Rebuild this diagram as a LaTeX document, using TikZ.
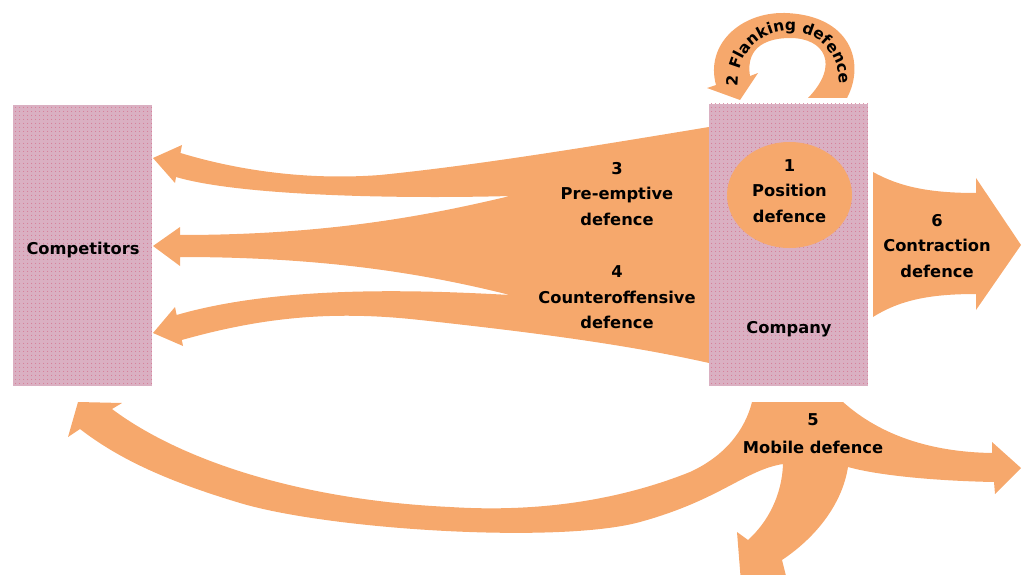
\documentclass[tikz,border=0pt]{standalone}
\usepackage{fontspec}
\setmainfont{DejaVu Sans}
\usetikzlibrary{shapes.geometric,decorations.text,patterns.meta}

\definecolor{defence}{RGB}{246,168,108}
\definecolor{boxpink}{RGB}{218,176,194}
\definecolor{boxdot}{RGB}{214,112,140}

\tikzset{
  arrowshape/.style={fill=defence, draw=none},
  party/.style={fill=boxpink, draw=none, inner sep=0pt,
    postaction={pattern={Dots[distance=4pt,radius=0.6pt]}, pattern color=boxdot}},
  lbl/.style={font=\bfseries\fontsize{16.3}{25.5}\selectfont, align=center, inner sep=0pt, text=black},
}

\begin{document}
\begin{tikzpicture}[x=1pt,y=-1pt]
\useasboundingbox (0,0) rectangle (1023,575);
\clip (0,0) rectangle (1023,575);

% 3 and 4: funnel splitting into three arrows towards the competitors
\fill[arrowshape]
  (709,127) .. controls (600,145) and (480,165) .. (380,175)
  .. controls (300,181) and (230,168) .. (180.5,153)
  -- (182,145) -- (153,158) -- (175,183) -- (176,177)
  .. controls (240,196) and (400,199) .. (510,196)
  .. controls (430,215) and (330,235) .. (180,235)
  -- (180,227) -- (153,246) -- (180,266) -- (180,257)
  .. controls (330,257) and (430,275) .. (510,295)
  .. controls (420,290) and (280,285) .. (176.6,315)
  -- (175,307) -- (153,333) -- (183,346) -- (181.8,340)
  .. controls (260,318) and (330,310) .. (420,320)
  .. controls (520,331) and (620,343) .. (709,363)
  -- cycle;

% 6: contraction arrow
\fill[arrowshape]
  (873,172) .. controls (900,187) and (930,193) .. (976,193)
  -- (976,178) -- (1021,245) -- (976,310) -- (976,294)
  .. controls (930,294) and (900,300) .. (873,317)
  -- cycle;

% 2: flanking arrow curling over the company
\fill[arrowshape]
  (847,98) .. controls (866,62) and (850,15) .. (785,13)
  .. controls (740,12) and (705,45) .. (716,85)
  -- (707,88) -- (740,100) -- (758,73) -- (750,76)
  .. controls (745,45) and (770,38) .. (790,38)
  .. controls (825,38) and (840,65) .. (808,98)
  -- cycle;

% 5: mobile defence, three branches
\fill[arrowshape]
  (752,402) -- (843,402)
  .. controls (880,435) and (930,452) .. (992,453)
  -- (992,442) -- (1021,468) -- (995,494) -- (994,482)
  .. controls (940,481) and (880,476) .. (848,467)
  .. controls (842,505) and (815,538) .. (782,560)
  -- (787,580) -- (742,595) -- (737,532) -- (748,540)
  .. controls (768,522) and (782,495) .. (783,464)
  .. controls (745,470) and (720,500) .. (640,522)
  .. controls (560,544) and (330,530) .. (240,503)
  .. controls (170,482) and (120,460) .. (80,429)
  -- (68,437) -- (78,402) -- (122,403) -- (112,409)
  .. controls (180,460) and (300,500) .. (450,507)
  .. controls (560,514) and (640,492) .. (690,472)
  .. controls (725,456) and (745,430) .. (752,402)
  -- cycle;

% the two parties
\node[party, minimum width=139pt, minimum height=281pt] (competitors) at (82.5,245.5) {};
\node[party, minimum width=159pt, minimum height=282pt] (company) at (788.5,245) {};

% 1: position defence
\node[ellipse, fill=defence, inner sep=0pt, minimum width=125pt, minimum height=106pt] (position) at (789.5,195) {};

% labels
\node[lbl] (complabel) at (83,250) {Competitors};
\node[lbl] (poslbl) at (789.5,191) {1\\Position\\defence};
\node[lbl] (companylabel) at (789,329) {Company};
\node[lbl] (preemptive) at (617,194) {3\\Pre-emptive\\defence};
\node[lbl] (counter) at (617,297.6) {4\\Counteroffensive\\defence};
\node[lbl] (contraction) at (937,246) {6\\Contraction\\defence};
\node[lbl, font=\bfseries\fontsize{16.3}{28}\selectfont] (mobile) at (813,433.5) {5\\Mobile defence};

% text running along the flanking arrow
\path[decorate, decoration={text along path, text align=center,
    text={|\bfseries\fontsize{15.5}{15.5}\selectfont|2 Flanking defence}}]
  (738,92) .. controls (731,14) and (842,8) .. (840,90);
\end{tikzpicture}
\end{document}
